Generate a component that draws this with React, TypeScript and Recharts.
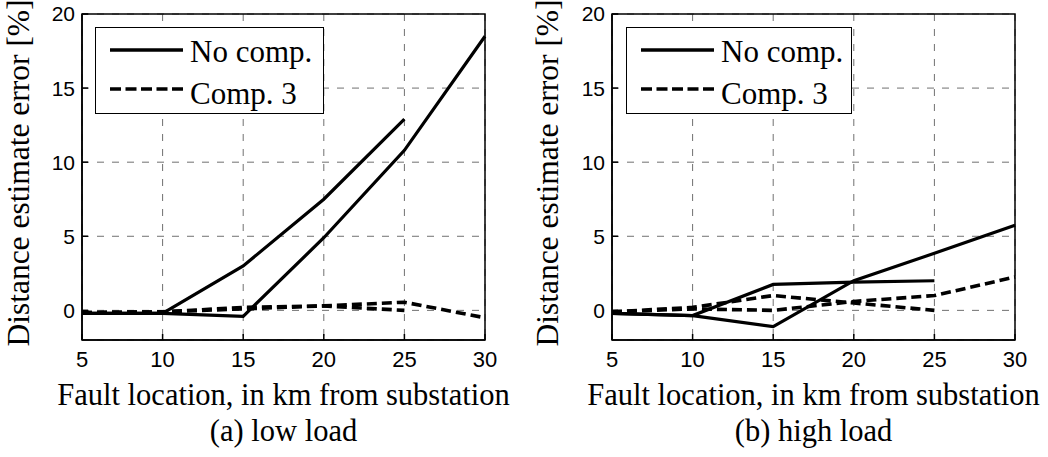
import React from 'react';
import {
  LineChart,
  Line,
  XAxis,
  YAxis,
  CartesianGrid,
  ReferenceArea,
  Legend,
} from 'recharts';

const X_KM = [5, 10, 15, 20, 25, 30];
const X_TICKS = [5, 10, 15, 20, 25, 30];
const Y_TICKS = [0, 5, 10, 15, 20];
const LEGEND_ORDER = ['No comp.', 'Comp. 3'];

// (a) low load
const LOW_NO_COMP_A = [-0.2, -0.2, 3.0, 7.5, 12.9, null];
const LOW_NO_COMP_B = [-0.2, -0.2, -0.4, 4.9, 10.8, 18.5];
const LOW_COMP3_A = [-0.15, -0.1, 0.2, 0.3, 0.0, null];
const LOW_COMP3_B = [-0.15, -0.1, 0.1, 0.3, 0.55, -0.5];

// (b) high load
const HIGH_NO_COMP_A = [-0.2, -0.35, 1.75, 1.9, 2.0, null];
const HIGH_NO_COMP_B = [-0.2, -0.35, -1.1, 2.0, 3.85, 5.75];
const HIGH_COMP3_A = [-0.1, 0.2, 1.0, 0.5, 0.0, null];
const HIGH_COMP3_B = [-0.1, 0.1, 0.0, 0.6, 1.0, 2.25];

const SERIF = '"Liberation Serif", "Times New Roman", serif';
const SANS = '"Liberation Sans", Arial, sans-serif';

const buildRows = (a: any[], b: any[], c: any[], d: any[]) =>
  X_KM.map((x, i) => ({ x, noCompA: a[i], noCompB: b[i], comp3A: c[i], comp3B: d[i] }));

const LOW_ROWS = buildRows(LOW_NO_COMP_A, LOW_NO_COMP_B, LOW_COMP3_A, LOW_COMP3_B);
const HIGH_ROWS = buildRows(HIGH_NO_COMP_A, HIGH_NO_COMP_B, HIGH_COMP3_A, HIGH_COMP3_B);

const CHART_W = 524;
const CHART_H = 457;

const LegendBox = ({ payload, width }: any) => {
  const items = (payload || [])
    .filter((e: any) => e.type !== 'none' && LEGEND_ORDER.includes(e.value))
    .sort((a: any, b: any) => LEGEND_ORDER.indexOf(a.value) - LEGEND_ORDER.indexOf(b.value));
  return (
    <div
      style={{
        width,
        height: 87,
        border: '1px solid #000',
        background: '#fff',
        boxSizing: 'border-box',
      }}
    >
      <svg width={width - 2} height={85} style={{ display: 'block' }}>
        {items.map((entry: any, i: number) => {
          const y = i === 0 ? 22 : 61;
          const dashed = !!entry.payload?.strokeDasharray;
          return (
            <g key={`leg-${i}`}>
              <line
                x1={14}
                x2={87}
                y1={y}
                y2={y}
                stroke="#000"
                strokeWidth={3.5}
                strokeDasharray={dashed ? '11 4.5' : undefined}
              />
              <text x={94} y={y + (i === 0 ? 12 : 15)} fontFamily={SERIF} fontSize={31} fill="#000">
                {entry.value}
              </text>
            </g>
          );
        })}
      </svg>
    </div>
  );
};

function Panel({ rows, caption, yAxisWidth, marginRight, titleX, legendLeft, legendWidth }: any) {
  const YTitle = () => (
    <text
      x={titleX}
      y={173}
      transform={`rotate(-90 ${titleX} 173)`}
      textAnchor="middle"
      fontFamily={SERIF}
      fontSize={31.5}
      fill="#000"
    >
      Distance estimate error [%]
    </text>
  );

  const XTitle = ({ viewBox }: any) => {
    const cx = viewBox.x + viewBox.width / 2;
    return (
      <g>
        <text x={cx} y={405} textAnchor="middle" fontFamily={SERIF} fontSize={30.5} fill="#000">
          Fault location, in km from substation
        </text>
        <text x={cx} y={441} textAnchor="middle" fontFamily={SERIF} fontSize={30.5} fill="#000">
          {caption}
        </text>
      </g>
    );
  };

  return (
    <LineChart
      width={CHART_W}
      height={CHART_H}
      data={rows}
      margin={{ top: 14, right: marginRight, left: 0, bottom: 87 }}
    >
      <CartesianGrid stroke="#707070" strokeWidth={1} strokeDasharray="7 8" />
      <XAxis
        dataKey="x"
        type="number"
        domain={[5, 30]}
        ticks={X_TICKS}
        height={30}
        stroke="#000"
        strokeWidth={1.5}
        tickSize={-6}
        tickMargin={17}
        tick={{ fill: '#000', fontFamily: SANS, fontSize: 22 }}
        label={{ value: 'x', content: XTitle }}
      />
      <YAxis
        type="number"
        domain={[-2, 20]}
        ticks={Y_TICKS}
        width={yAxisWidth}
        stroke="#000"
        strokeWidth={1.5}
        tickSize={-6}
        tickMargin={13}
        tick={{ fill: '#000', fontFamily: SANS, fontSize: 21 }}
        label={{ value: 'y', content: YTitle }}
      />
      <ReferenceArea
        x1={5}
        x2={30}
        y1={-2}
        y2={20}
        fill="none"
        fillOpacity={0}
        stroke="#000"
        strokeWidth={1.5}
      />
      <Line
        dataKey="noCompA"
        name="No comp."
        stroke="#000"
        strokeWidth={3.2}
        dot={false}
        activeDot={false}
        isAnimationActive={false}
      />
      <Line
        dataKey="comp3A"
        name="Comp. 3"
        stroke="#000"
        strokeWidth={3.6}
        strokeDasharray="10 5"
        dot={false}
        activeDot={false}
        isAnimationActive={false}
      />
      <Line
        dataKey="noCompB"
        name="No comp. (2)"
        legendType="none"
        stroke="#000"
        strokeWidth={3.2}
        dot={false}
        activeDot={false}
        isAnimationActive={false}
      />
      <Line
        dataKey="comp3B"
        name="Comp. 3 (2)"
        legendType="none"
        stroke="#000"
        strokeWidth={3.6}
        strokeDasharray="10 5"
        dot={false}
        activeDot={false}
        isAnimationActive={false}
      />
      <Legend
        layout="vertical"
        align="center"
        verticalAlign="middle"
        wrapperStyle={{ left: legendLeft, top: 27, width: legendWidth, height: 87 }}
        content={(props: any) => <LegendBox payload={props.payload} width={legendWidth} />}
      />
    </LineChart>
  );
}

export default function App() {
  return (
    <div
      style={{
        position: 'absolute',
        left: 0,
        top: 0,
        width: 1048,
        height: 457,
        background: '#fff',
        overflow: 'hidden',
      }}
    >
      <div style={{ position: 'absolute', left: 0, top: 0 }}>
        <Panel
          rows={LOW_ROWS}
          caption="(a) low load"
          yAxisWidth={82}
          marginRight={39}
          titleX={29}
          legendLeft={95}
          legendWidth={229}
        />
      </div>
      <div style={{ position: 'absolute', left: 524, top: 0 }}>
        <Panel
          rows={HIGH_ROWS}
          caption="(b) high load"
          yAxisWidth={88}
          marginRight={33}
          titleX={34}
          legendLeft={102}
          legendWidth={226}
        />
      </div>
    </div>
  );
}
